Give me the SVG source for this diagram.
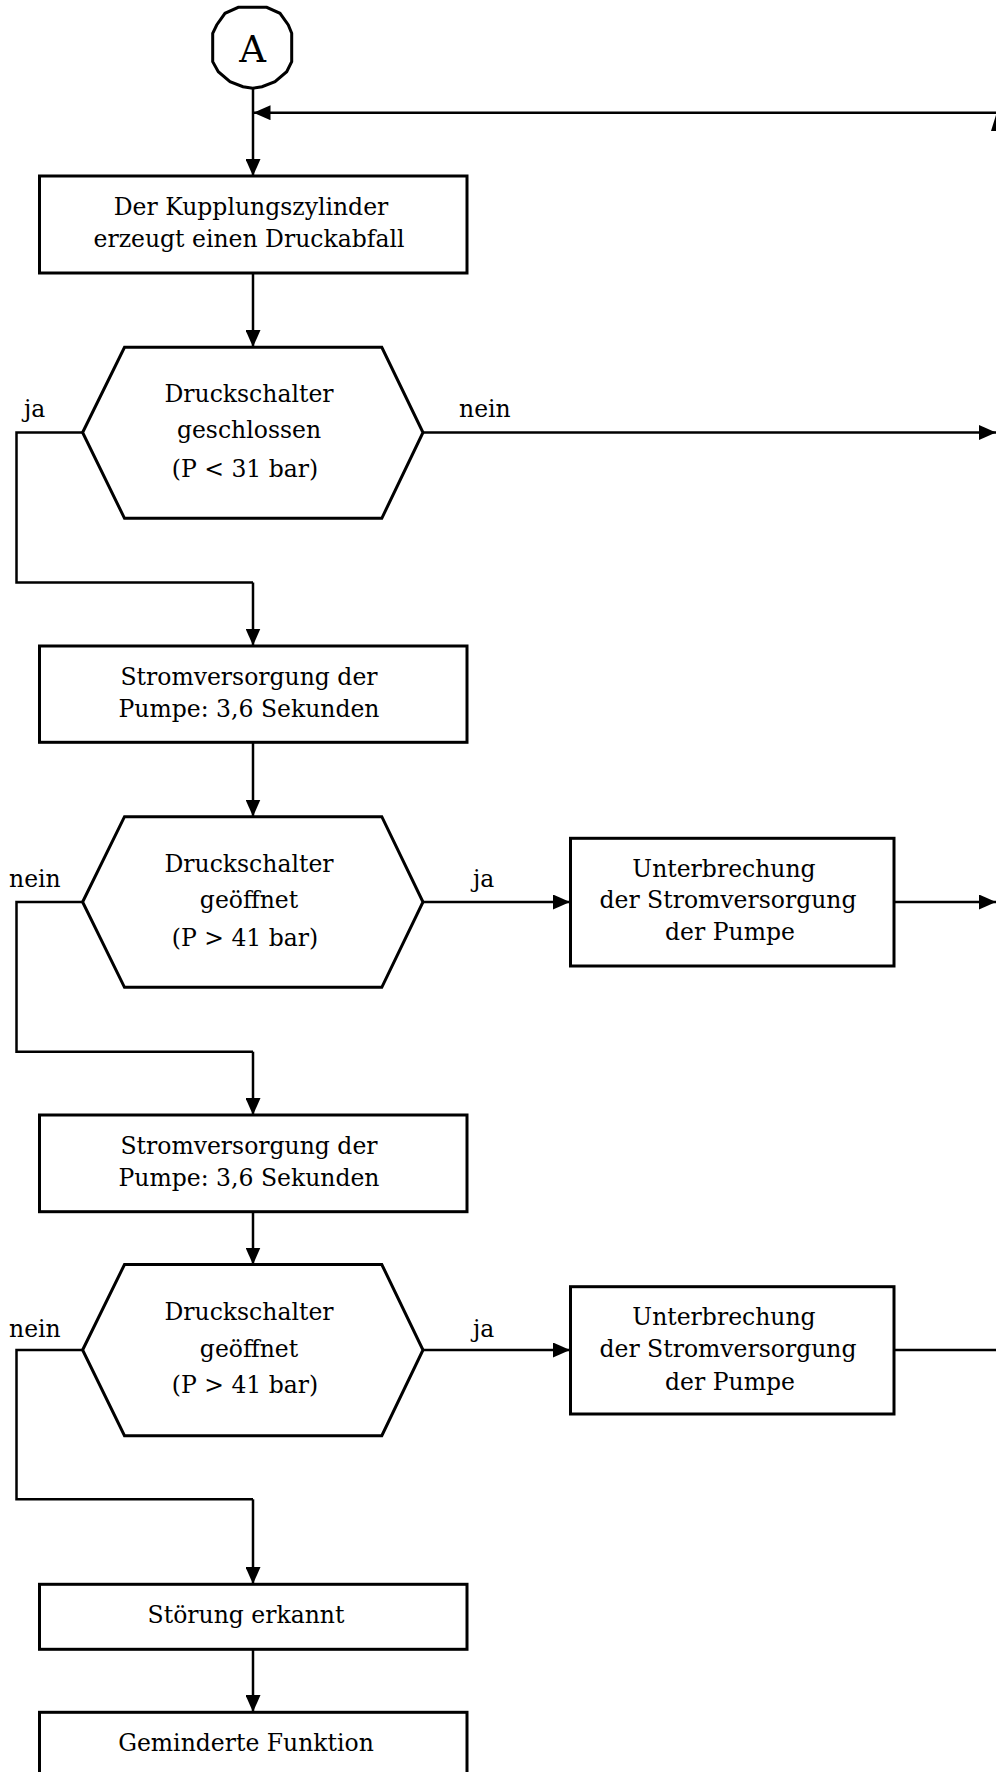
<svg xmlns="http://www.w3.org/2000/svg" width="996" height="1772" viewBox="0 0 996 1772">
<defs>
<marker id="ah" viewBox="0 0 17 15" refX="17" refY="7.5" markerWidth="17" markerHeight="15" markerUnits="userSpaceOnUse" orient="auto">
<path d="M0,0 L17,7.5 L0,15 Z" fill="#000"/>
</marker>
<style>
.box{fill:#fff;stroke:#000;stroke-width:3}
.hex{fill:#fff;stroke:#000;stroke-width:3;stroke-linejoin:miter}
.c{fill:none;stroke:#000;stroke-width:2.5}
.ca{fill:none;stroke:#000;stroke-width:2.5;marker-end:url(#ah)}
text{font-family:"DejaVu Serif","Liberation Serif",serif;font-size:23.5px;fill:#000}
.m{text-anchor:middle}
</style>
</defs>
<rect width="996" height="1772" fill="#fff"/>

<g id="connectors">
<path class="ca" d="M253,88 L253,176"/>
<path class="ca" d="M996,112.7 L253.5,112.7"/>
<path d="M991,131 L996,115 L996,131 Z" fill="#000"/>
<path class="ca" d="M253,273 L253,347"/>
<path class="c" d="M82.6,432.5 L16.5,432.5 L16.5,582.5 L253,582.5"/>
<path class="ca" d="M253,582.5 L253,645.5"/>
<path class="ca" d="M423,432.5 L996,432.5"/>
<path class="ca" d="M253,742 L253,816.5"/>
<path class="c" d="M82.6,902 L16.5,902 L16.5,1051.7 L253,1051.7"/>
<path class="ca" d="M253,1051.7 L253,1115"/>
<path class="ca" d="M423,902 L570,902"/>
<path class="ca" d="M894,902 L996,902"/>
<path class="ca" d="M253,1212 L253,1264.5"/>
<path class="c" d="M82.6,1350 L16.5,1350 L16.5,1499.3 L253,1499.3"/>
<path class="ca" d="M253,1499.3 L253,1584"/>
<path class="ca" d="M423,1350 L570,1350"/>
<path class="c" d="M894,1350 L996,1350"/>
<path class="ca" d="M253,1649 L253,1712"/>
<text x="24" y="416.7">ja</text>
<text x="459" y="417">nein</text>
<text x="9" y="887.3">nein</text>
<text x="473" y="887">ja</text>
<text x="9" y="1336.7">nein</text>
<text x="473" y="1336.5">ja</text>
</g>

<g id="start-A">
<polygon class="hex" points="238.3,7.3 266.7,7.3 280,13.3 288.3,25 291.7,33.3 291.7,61.7 286.7,71.7 275,81.7 262,86.7 252.7,88.3 243,86.7 230,81.7 218.3,71.7 212.7,61.7 212.7,33.3 216.7,25 225,13.3"/>
<text class="m" x="252.7" y="61.5" style="font-size:37px">A</text>
</g>

<g id="box-kupplung">
<rect class="box" x="39.5" y="176" width="427.5" height="97"/>
<text class="m" x="251" y="215">Der Kupplungszylinder</text>
<text class="m" x="249" y="247">erzeugt einen Druckabfall</text>
</g>

<g id="hex-geschlossen">
<polygon class="hex" points="82.6,432.5 124.5,347.3 381.8,347.3 423,432.5 381.8,518.3 124.5,518.3"/>
<text class="m" x="249" y="401.7">Druckschalter</text>
<text class="m" x="249" y="438">geschlossen</text>
<text class="m" x="245" y="476.7">(P &lt; 31 bar)</text>
</g>

<g id="box-strom1">
<rect class="box" x="39.5" y="646" width="427.5" height="96.3"/>
<text class="m" x="249" y="685">Stromversorgung der</text>
<text class="m" x="249" y="716.7">Pumpe: 3,6 Sekunden</text>
</g>

<g id="hex-geoeffnet1">
<polygon class="hex" points="82.6,902 124.5,816.7 381.8,816.7 423,902 381.8,987.3 124.5,987.3"/>
<text class="m" x="249" y="871.7">Druckschalter</text>
<text class="m" x="249" y="908.3">geöffnet</text>
<text class="m" x="245" y="945.7">(P &gt; 41 bar)</text>
</g>

<g id="box-unterbrechung1">
<rect class="box" x="570.5" y="838.3" width="323.5" height="127.7"/>
<text class="m" x="724" y="876.7">Unterbrechung</text>
<text class="m" x="728" y="908.3">der Stromversorgung</text>
<text class="m" x="730" y="940">der Pumpe</text>
</g>

<g id="box-strom2">
<rect class="box" x="39.5" y="1115" width="427.5" height="96.7"/>
<text class="m" x="249" y="1154">Stromversorgung der</text>
<text class="m" x="249" y="1185.7">Pumpe: 3,6 Sekunden</text>
</g>

<g id="hex-geoeffnet2">
<polygon class="hex" points="82.6,1350 124.5,1264.5 381.8,1264.5 423,1350 381.8,1435.7 124.5,1435.7"/>
<text class="m" x="249" y="1320">Druckschalter</text>
<text class="m" x="249" y="1356.7">geöffnet</text>
<text class="m" x="245" y="1393.3">(P &gt; 41 bar)</text>
</g>

<g id="box-unterbrechung2">
<rect class="box" x="570.5" y="1286.7" width="323.5" height="127.3"/>
<text class="m" x="724" y="1325">Unterbrechung</text>
<text class="m" x="728" y="1356.7">der Stromversorgung</text>
<text class="m" x="730" y="1390">der Pumpe</text>
</g>

<g id="box-stoerung">
<rect class="box" x="39.5" y="1584.3" width="427.5" height="65"/>
<text class="m" x="246" y="1623.3">Störung erkannt</text>
</g>

<g id="box-gemindert">
<rect class="box" x="39.5" y="1712.3" width="427.5" height="80"/>
<text class="m" x="246" y="1750.7">Geminderte Funktion</text>
</g>
</svg>
